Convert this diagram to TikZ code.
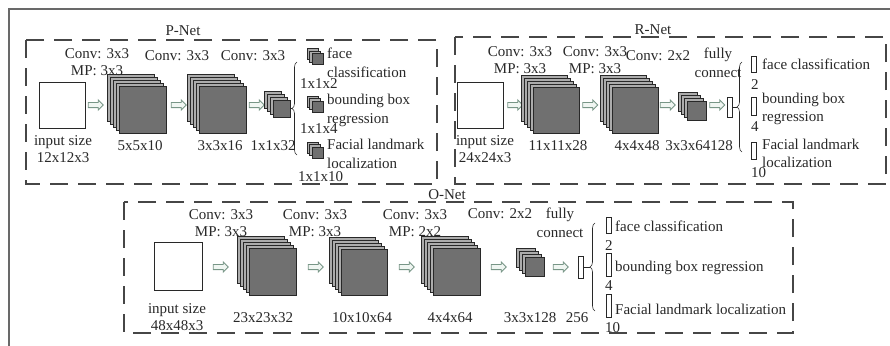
\documentclass[tikz,border=0pt]{standalone}
\usepackage{fontspec}
\setmainfont{Liberation Serif}
\usetikzlibrary{shapes.arrows,decorations.pathreplacing}
\definecolor{ink}{RGB}{40,40,40}
\definecolor{framec}{RGB}{105,105,105}
\definecolor{dashc}{RGB}{70,70,70}
\definecolor{backl}{RGB}{172,172,172}
\definecolor{frontl}{RGB}{112,112,112}
\definecolor{flowc}{RGB}{120,150,135}
\definecolor{flowf}{RGB}{240,246,242}

% feature map: name, x, y, size, back layers, shift
\newcommand{\fmap}[6]{%
  \foreach \k in {#5,...,1}
    \node[layer, fill=backl, minimum size=#4, xshift=-#6*\k, yshift=#6*\k] at (#2,#3) {};
  \node[layer, fill=frontl, minimum size=#4] (#1) at (#2,#3) {};}

\begin{document}
\begin{tikzpicture}[
  x=1pt, y=-1pt,
  font=\fontsize{15}{17}\selectfont, text=ink,
  net/.style={draw=dashc, line width=1.5pt, dash pattern=on 18pt off 10pt},
  layer/.style={draw=ink, line width=0.6pt, inner sep=0},
  inbox/.style={draw=ink, line width=0.6pt, fill=white, inner sep=0},
  flow/.style={single arrow, draw=flowc, fill=flowf, line width=0.8pt, inner sep=2.2pt,
               minimum height=15pt, single arrow head extend=2.5pt},
  fc/.style={draw=ink, line width=0.6pt, fill=white, inner sep=0, minimum width=5pt},
  lbl/.style={align=center, inner sep=0},
  outtxt/.style={align=left, anchor=west, inner sep=0},
  curly/.style={decorate, decoration={brace, amplitude=5pt}, draw=ink, line width=0.6pt},
  link/.style={draw=ink, line width=0.6pt}]
\useasboundingbox (0,0) rectangle (890,345);
\draw[framec, line width=2.5pt] (892,9) -- (9,9) -- (9,347);

% --- P-Net
\draw[net] (26,40) rectangle (437,184);
\node[lbl] (pnet) at (183,31) {P-Net};
\node[inbox, minimum size=46] (pin) at (62,105) {};
\node[flow] (pa1) at (94.5,105) {};
\fmap{p1}{142.5}{110}{47}{4}{3}
\node[flow] (pa2) at (177.5,105) {};
\fmap{p2}{222.5}{110}{47}{4}{3}
\node[flow] (pa3) at (255.5,105) {};
\fmap{p3}{281.5}{108.5}{17}{3}{3}
\draw[curly] (297,155) -- (297,62);
\coordinate (pbr) at (292,108.5);
\draw[link] (p3.east) -- (pbr);
\fmap{pc1}{317.5}{59}{11}{2}{2.5}
\fmap{pc2}{317.5}{106.5}{11}{2}{2.5}
\fmap{pc3}{317.5}{152.5}{11}{2}{2.5}
\node[lbl] (pk1) at (97,62) {Conv: 3x3\\MP: 3x3};
\node[lbl] (pk2) at (177,56) {Conv: 3x3};
\node[lbl] (pk3) at (253,56) {Conv: 3x3};
\node[lbl] (ps0) at (63,149) {input size\\12x12x3};
\node[lbl] (ps1) at (140,146) {5x5x10};
\node[lbl] (ps2) at (220,146) {3x3x16};
\node[lbl] (ps3) at (273,146) {1x1x32};
\node[outtxt] (po1) at (327,63) {face\\[2pt]classification};
\node[outtxt] (pd1) at (300,84) {1x1x2};
\node[outtxt] (po2) at (327,110) {bounding box\\[2pt]regression};
\node[outtxt] (pd2) at (300,129) {1x1x4};
\node[outtxt] (po3) at (327,154) {Facial landmark\\[2pt]localization};
\node[outtxt] (pd3) at (298,177) {1x1x10};

% --- R-Net
\draw[net] (455,37) rectangle (886,184);
\node[lbl] (rnet) at (653,30) {R-Net};
\node[inbox, minimum size=46] (rin) at (480.5,105) {};
\node[flow] (ra1) at (514,105) {};
\fmap{r1}{556.5}{110}{46}{4}{3}
\node[flow] (ra2) at (589,105) {};
\fmap{r2}{635}{110}{46}{4}{3}
\node[flow] (ra3) at (666.5,105) {};
\fmap{r3}{696.5}{111}{19}{3}{3}
\node[flow] (ra4) at (716,105) {};
\node[fc, minimum height=20] (rfc) at (730,107) {};
\draw[curly] (742,152) -- (742,62);
\coordinate (rbr) at (737,107);
\draw[link] (rfc.east) -- (rbr);
\node[fc, minimum height=16] (ro1r) at (754,64) {};
\node[fc, minimum height=18] (ro2r) at (754,106) {};
\node[fc, minimum height=17] (ro3r) at (754,151) {};
\node[lbl] (rk1) at (520,60) {Conv: 3x3\\MP: 3x3};
\node[lbl] (rk2) at (595,60) {Conv: 3x3\\MP: 3x3};
\node[lbl] (rk3) at (658,56) {Conv: 2x2};
\node[lbl] (rk4) at (718,63) {fully\\[2pt]connect};
\node[lbl] (rs0) at (485,149) {input size\\24x24x3};
\node[lbl] (rs1) at (558,146) {11x11x28};
\node[lbl] (rs2) at (637,146) {4x4x48};
\node[lbl] (rs3) at (699,146) {3x3x64128};
\node[outtxt] (ro1) at (762,64) {face classification};
\node[outtxt] (rd1) at (751,85) {2};
\node[outtxt] (ro2) at (762,109) {bounding box\\[1pt]regression};
\node[outtxt] (rd2) at (751,127) {4};
\node[outtxt] (ro3) at (762,153) {Facial landmark\\[1pt]localization};
\node[outtxt] (rd3) at (751,173) {10};

% --- O-Net
\draw[net] (124,202) rectangle (793,333);
\node[lbl] (onet) at (447,195) {O-Net};
\node[inbox, minimum size=48] (oin) at (178,266) {};
\node[flow] (oa1) at (219.5,267) {};
\fmap{o1}{272.5}{272}{47}{4}{3}
\node[flow] (oa2) at (314.5,267) {};
\fmap{o2}{364.5}{272}{46}{4}{3}
\node[flow] (oa3) at (405.5,267) {};
\fmap{o3}{456.5}{272}{47}{4}{3}
\node[flow] (oa4) at (497.5,267) {};
\fmap{o4}{534.5}{267}{19}{3}{3}
\node[flow] (oa5) at (559.5,267) {};
\node[fc, minimum height=22] (ofc) at (580.5,267) {};
\draw[curly] (595,311) -- (595,223);
\coordinate (obr) at (590,267);
\draw[link] (ofc.east) -- (obr);
\node[fc, minimum height=16] (oo1r) at (609,225) {};
\node[fc, minimum height=23] (oo2r) at (609,264.5) {};
\node[fc, minimum height=23] (oo3r) at (609,305.5) {};
\node[lbl] (ok1) at (221,223) {Conv: 3x3\\MP: 3x3};
\node[lbl] (ok2) at (315,223) {Conv: 3x3\\MP: 3x3};
\node[lbl] (ok3) at (415,223) {Conv: 3x3\\MP: 2x2};
\node[lbl] (ok4) at (500,214) {Conv: 2x2};
\node[lbl] (ok5) at (560,223) {fully\\[2pt]connect};
\node[lbl] (os0) at (177,317) {input size\\48x48x3};
\node[lbl] (os1) at (263,318) {23x23x32};
\node[lbl] (os2) at (362,318) {10x10x64};
\node[lbl] (os3) at (450,318) {4x4x64};
\node[lbl] (os4) at (530,318) {3x3x128};
\node[lbl] (os5) at (577,318) {256};
\node[outtxt] (oo1) at (615,226) {face classification};
\node[outtxt] (od1) at (605,246) {2};
\node[outtxt] (oo2) at (615,268) {bounding box regression};
\node[outtxt] (od2) at (605,286) {4};
\node[outtxt] (oo3) at (615,309) {Facial landmark localization};
\node[outtxt] (od3) at (605,328) {10};
\end{tikzpicture}
\end{document}
